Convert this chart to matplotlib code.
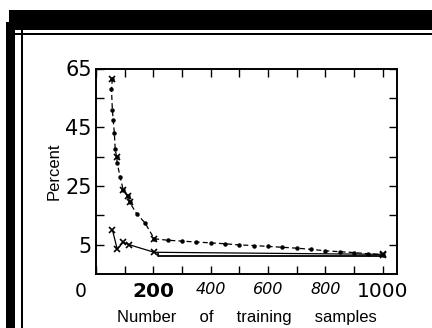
import matplotlib
matplotlib.use("Agg")
import matplotlib.pyplot as plt
from matplotlib.patches import Rectangle
from matplotlib.transforms import ScaledTranslation

# dashed curve with dots (upper) and solid curve (lower)
upper_x = [57, 54, 57, 60, 64, 67, 72, 74, 84, 95, 113, 117, 142, 171, 203,
           250, 300, 350, 400, 450, 500, 550, 600, 650, 700, 750, 800, 850, 900, 950, 1000]
upper_y = [61.5, 58, 51, 47.5, 43, 37.5, 34.8, 32.7, 28.2, 23.6, 21.5, 19.5, 15.5, 12.4, 7.0,
           6.5, 6.2, 5.9, 5.6, 5.3, 4.9, 4.7, 4.4, 4.1, 3.8, 3.4, 2.9, 2.6, 2.3, 1.9, 1.6]
upper_cross_x = [57, 72, 95, 113, 117, 203, 1000]
upper_cross_y = [61.5, 34.8, 23.6, 21.5, 19.5, 7.0, 1.6]

lower_x = [57, 74, 95, 115, 203, 1000]
lower_y = [10.1, 3.5, 5.8, 5.0, 2.4, 1.7]
lower2_x = [215, 215, 1000]
lower2_y = [1.8, 1.0, 1.0]

xticks = [0, 200, 400, 600, 800, 1000]
xlabels = ["0", "200", "400", "600", "800", "1000"]
yticks = [5, 25, 45, 65]

fig = plt.figure(figsize=(4.32, 3.28), dpi=100)
W, H = 432, 328

# scanned page borders
def box(x0, y0, x1, y1):
    fig.patches.append(Rectangle((x0 / W, 1 - y1 / H), (x1 - x0) / W, (y1 - y0) / H,
                                 transform=fig.transFigure, color="black", lw=0))

box(9, 10, 432, 30)
box(6, 22, 15, 328)
box(15, 33, 432, 35)
box(20.5, 29, 22.5, 328)

ax = fig.add_axes([96 / W, 1 - 274 / H, 301 / W, 205.5 / H])
ax.plot(upper_x, upper_y, color="black", lw=0.9, ls=(0, (4, 2.5)),
        marker="o", ms=2.2)
ax.plot(upper_cross_x, upper_cross_y, ls="none", marker="x", color="black", ms=5, mew=1.2)
ax.plot(lower_x, lower_y, color="black", lw=0.9, marker="x", ms=5, mew=1.2)
ax.plot(lower2_x, lower2_y, color="black", lw=1.3)

ax.set_xlim(0, 1050)
ax.set_ylim(-5, 65)
ax.set_xticks(range(0, 1001, 100), minor=True)
ax.set_xticks(xticks)
ax.set_xticklabels(xlabels)
ax.set_yticks(range(5, 66, 10), minor=True)
ax.set_yticks(yticks)
ax.set_yticklabels([str(v) for v in yticks])
for s in ax.spines.values():
    s.set_linewidth(1.4)
ax.tick_params(which="both", direction="in", top=True, right=True, width=1.0)
ax.tick_params(which="major", length=6)
ax.tick_params(which="minor", length=6)
ax.tick_params(axis="x", pad=6)
ax.tick_params(axis="y", pad=3)

for lab in ax.get_yticklabels():
    lab.set_family("DejaVu Sans")
    lab.set_fontsize(15)
xl = ax.get_xticklabels()
for lab in xl:
    lab.set_family("DejaVu Sans")
    lab.set_fontsize(14.5)
xl[1].set_fontweight("bold")
for lab in xl[2:5]:
    lab.set_style("italic")
    lab.set_fontsize(11.5)
xl[0].set_fontsize(13.5)
xl[0].set_transform(xl[0].get_transform() + ScaledTranslation(-0.15, 0, fig.dpi_scale_trans))

ax.set_xlabel("Number     of     training     samples", family="Liberation Sans", fontsize=12)
ax.xaxis.set_label_coords(0.5, -0.175)
ax.set_ylabel("Percent", family="Liberation Sans", fontsize=12)
ax.yaxis.set_label_coords(-0.115, 0.5)

fig.savefig("out.png", dpi=100)
